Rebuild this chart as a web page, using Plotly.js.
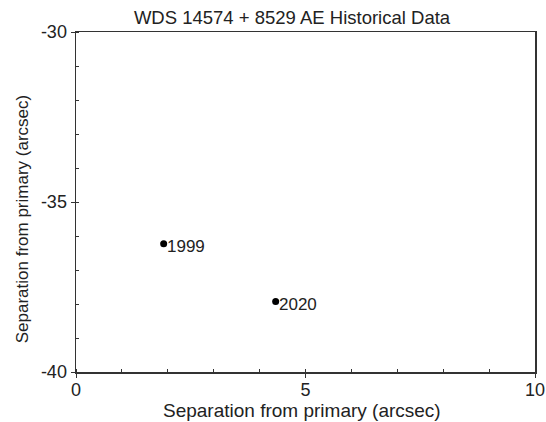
<!DOCTYPE html>
<html>
<head>
<meta charset="utf-8">
<script src="https://cdn.plot.ly/plotly-3.0.1.min.js"></script>
<style>html,body{margin:0;padding:0;background:#fff;}#chart{width:546px;height:422px;}</style>
</head>
<body>
<div id="chart"></div>
<script>
const chartTitle = "WDS 14574 + 8529 AE Historical Data";
const xTitle = "Separation from primary (arcsec)";
const yTitle = "Separation from primary (arcsec)";
const years = ["1999", "2020"];
const xValues = [1.91, 4.35];
const yValues = [-36.23, -37.93];
const xRange = [0, 10];
const yRange = [-40, -30];
const xTickVals = [0, 5, 10];
const yTickVals = [-40, -35, -30];

const fontFam = "Liberation Sans, Arial, sans-serif";
const axisCommon = {
  showgrid: false,
  zeroline: false,
  showline: true,
  linecolor: "#333",
  linewidth: 1.5,
  mirror: true,
  ticks: "outside",
  ticklen: 4,
  tickwidth: 1,
  tickcolor: "#333",
  tickfont: {family: fontFam, size: 18, color: "#222"},
  minor: {ticks: "inside", dtick: 1, ticklen: 3, tickcolor: "#333", tickwidth: 1, showgrid: false}
};

const trace = {
  x: xValues,
  y: yValues,
  mode: "markers",
  type: "scatter",
  marker: {color: "#000", size: 7},
  cliponaxis: false,
  hoverinfo: "none"
};

const pointLabels = years.map((yr, i) => ({
  x: xValues[i],
  y: yValues[i],
  xref: "x",
  yref: "y",
  text: yr,
  showarrow: false,
  xanchor: "left",
  yanchor: "middle",
  xshift: 1,
  yshift: -3,
  font: {family: fontFam, size: 17, color: "#222"}
}));

const layout = {
  width: 546,
  height: 422,
  margin: {l: 75.5, r: 11, t: 32.3, b: 49.7},
  paper_bgcolor: "#fff",
  plot_bgcolor: "#fff",
  showlegend: false,
  title: {
    text: chartTitle,
    font: {family: fontFam, size: 18.5, color: "#222"},
    x: 292 / 546,
    xanchor: "center",
    xref: "container",
    yref: "container",
    y: 1 - 18 / 422,
    yanchor: "middle"
  },
  xaxis: Object.assign({}, axisCommon, {
    range: xRange,
    tickvals: xTickVals,
    ticktext: xTickVals.map(String),
    ticklabelstandoff: -3
  }),
  yaxis: Object.assign({}, axisCommon, {
    range: yRange,
    tickvals: yTickVals,
    ticktext: yTickVals.map(String)
  }),
  annotations: pointLabels.concat([{
    text: xTitle,
    xref: "paper",
    yref: "paper",
    x: (302 - 75.5) / 459.5,
    y: -(411 - 372.3) / 340,
    xanchor: "center",
    yanchor: "middle",
    showarrow: false,
    font: {family: fontFam, size: 19, color: "#222"}
  }, {
    text: yTitle,
    xref: "paper",
    yref: "paper",
    x: (22 - 75.5) / 459.5,
    y: (372.3 - 220) / 340,
    xanchor: "center",
    yanchor: "middle",
    textangle: -90,
    showarrow: false,
    font: {family: fontFam, size: 17, color: "#222"}
  }])
};

Plotly.newPlot("chart", [trace], layout, {displayModeBar: false, staticPlot: true});
</script>
</body>
</html>
